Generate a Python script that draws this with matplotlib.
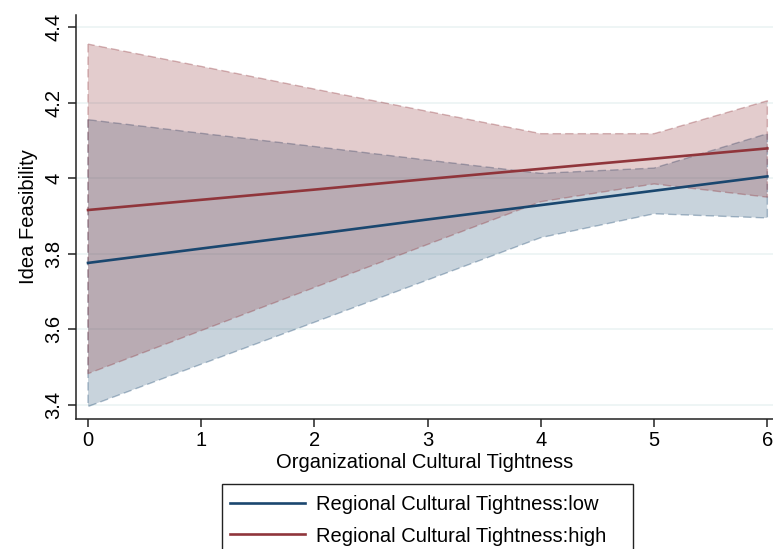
import matplotlib
matplotlib.use("Agg")
import matplotlib.pyplot as plt
from matplotlib.lines import Line2D
from matplotlib.patches import Rectangle

plt.rcParams['font.family'] = ['Liberation Sans', 'DejaVu Sans']

x = [0, 1, 2, 3, 4, 5, 6]
low_fit = [3.776, 3.814, 3.852, 3.891, 3.929, 3.967, 4.005]
low_lo = [3.396, 3.508, 3.619, 3.731, 3.843, 3.906, 3.895]
low_hi = [4.155, 4.119, 4.084, 4.048, 4.013, 4.027, 4.118]
high_fit = [3.916, 3.943, 3.970, 3.998, 4.025, 4.052, 4.079]
high_lo = [3.483, 3.597, 3.711, 3.825, 3.938, 3.985, 3.950]
high_hi = [4.355, 4.296, 4.236, 4.177, 4.118, 4.118, 4.205]

xticks = [0, 1, 2, 3, 4, 5, 6]
yticks = [3.4, 3.6, 3.8, 4.0, 4.2, 4.4]
ytick_labels = ["3.4", "3.6", "3.8", "4", "4.2", "4.4"]
series_labels = ["Regional Cultural Tightness:low", "Regional Cultural Tightness:high"]

navy = "#1a476f"
maroon = "#90353b"
FS = 14.5

W, H = 773, 549
fig = plt.figure(figsize=(W / 100, H / 100), dpi=100)
ax = fig.add_axes([76 / W, 1 - 419 / H, 1 - 76 / W, (419 - 15) / H])

for c in ax.spines:
    ax.spines[c].set_visible(False)
ax.spines['left'].set_visible(True)
ax.spines['bottom'].set_visible(True)
ax.spines['left'].set_color("#222222")
ax.spines['bottom'].set_color("#222222")
ax.spines['left'].set_linewidth(1.1)
ax.spines['bottom'].set_linewidth(1.1)

ax.set_xlim(-0.106, 6.05)
ax.set_ylim(3.363, 4.432)

for yv in yticks:
    ax.axhline(yv, color="#eaf2f3", lw=1.1, zorder=0)

ax.fill_between(x, low_lo, low_hi, facecolor=(26/255, 71/255, 111/255, 0.24),
                edgecolor=(26/255, 71/255, 111/255, 0.35), linestyle=(0, (6, 3)),
                linewidth=1.0, zorder=1)
ax.fill_between(x, high_lo, high_hi, facecolor=(144/255, 53/255, 59/255, 0.25),
                edgecolor=(144/255, 53/255, 59/255, 0.35), linestyle=(0, (6, 3)),
                linewidth=1.0, zorder=2)
ax.plot(x, low_fit, color=navy, lw=1.9, zorder=3)
ax.plot(x, high_fit, color=maroon, lw=1.9, zorder=3)

ax.set_xticks(xticks)
ax.set_xticklabels([str(t) for t in xticks], fontsize=FS)
ax.set_yticks(yticks)
ax.set_yticklabels(ytick_labels, fontsize=FS, rotation=90, va='center')
ax.tick_params(axis='both', length=6, width=1.1, color="#222222", pad=3)

ax.set_xlabel("Organizational Cultural Tightness", fontsize=FS, labelpad=2)
ax.set_ylabel("Idea Feasibility", fontsize=FS, labelpad=5)

# legend frame (extends past the bottom edge, as in the reference)
fig.patches.append(Rectangle((222 / W, -0.05), (633 - 222) / W, (0.05 + 1 - 484 / H),
                             transform=fig.transFigure, fill=False,
                             edgecolor="#222222", linewidth=1.0))
handles = [Line2D([0], [0], color=navy, lw=1.9), Line2D([0], [0], color=maroon, lw=1.9)]
leg = fig.legend(handles, series_labels, loc='upper left',
                 bbox_to_anchor=(226 / W, 1 - 491 / H), fontsize=FS,
                 frameon=False, handlelength=3.7, handletextpad=0.55,
                 borderpad=0.2, labelspacing=0.62, borderaxespad=0)

fig.savefig("out.png", dpi=100)
